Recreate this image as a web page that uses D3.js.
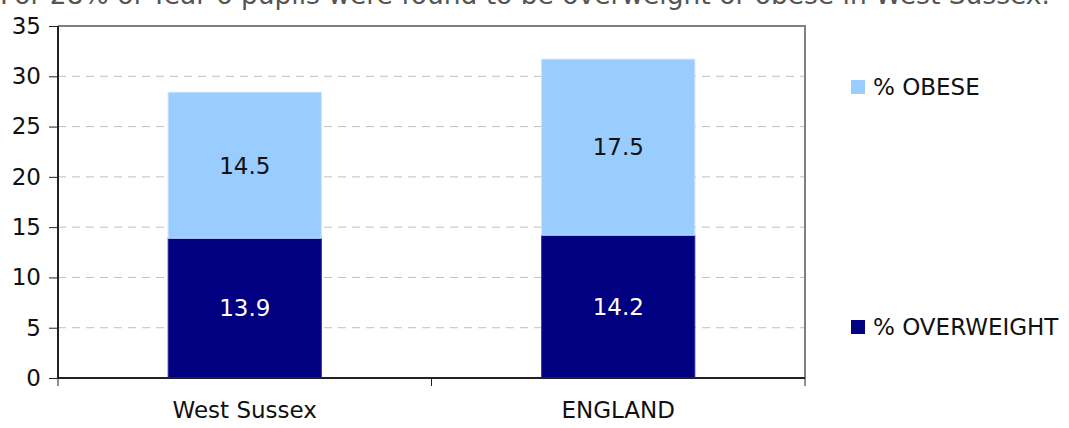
<!DOCTYPE html>
<html>
<head>
<meta charset="utf-8">
<script src="https://cdn.jsdelivr.net/npm/d3@7"></script>
<style>
  html, body { margin: 0; padding: 0; background: #fff; }
  svg { display: block; font-family: "DejaVu Sans", sans-serif; }
</style>
</head>
<body>
<svg id="chart" width="1069" height="428"></svg>
<script>
// Year 6 pupils overweight / obese, stacked by category
const categories = ["West Sussex", "ENGLAND"];
const overweight = [13.9, 14.2];
const obese = [14.5, 17.5];
const seriesNames = ["% OVERWEIGHT", "% OBESE"];
const seriesColors = ["#000080", "#99CCFF"];
const yTicks = [0, 5, 10, 15, 20, 25, 30, 35];
const captionText = "For 28% of Year 6 pupils were found to be overweight or obese in West Sussex.";

const svg = d3.select("#chart");
const plot = { left: 58, right: 805, top: 26, bottom: 378 };
const fs = 23;

const x = d3.scaleBand().domain(categories).range([plot.left, plot.right]).paddingInner(0).paddingOuter(0);
const y = d3.scaleLinear().domain([0, 35]).range([plot.bottom, plot.top]);
const barW = x.bandwidth() * 0.41;

// Caption line from the surrounding page, running off the top edge
svg.append("text")
  .attr("x", 0).attr("y", 4)
  .attr("font-size", 26.5).attr("fill", "#555")
  .text(captionText);

// Dashed horizontal gridlines
svg.append("g").selectAll("line")
  .data(yTicks.filter(d => d > 0 && d < 35))
  .join("line")
  .attr("x1", plot.left).attr("x2", plot.right)
  .attr("y1", d => y(d)).attr("y2", d => y(d))
  .attr("stroke", "#c0c0c0").attr("stroke-width", 1)
  .attr("stroke-dasharray", "8,6");

// Plot area frame (top and right)
svg.append("path")
  .attr("d", `M${plot.left},${plot.top}H${plot.right}V${plot.bottom}`)
  .attr("fill", "none").attr("stroke", "#808080").attr("stroke-width", 2);

// Stacked bars
const stackData = categories.map((c, i) => ({ cat: c, s0: overweight[i], s1: obese[i] }));
const stack = d3.stack().keys(["s0", "s1"])(stackData);

const layers = svg.append("g").selectAll("g")
  .data(stack)
  .join("g")
  .attr("fill", (d, i) => seriesColors[i])
  .attr("stroke", (d, i) => i === 0 ? "#2a2a9a" : "#c4e0ff")
  .attr("stroke-width", 1);

layers.selectAll("rect")
  .data(d => d)
  .join("rect")
  .attr("x", d => x(d.data.cat) + (x.bandwidth() - barW) / 2)
  .attr("width", barW)
  .attr("y", d => y(d[1]))
  .attr("height", d => y(d[0]) - y(d[1]));

// Value labels centred in each segment
stack.forEach((layer, li) => {
  svg.append("g").selectAll("text")
    .data(layer)
    .join("text")
    .attr("x", d => x(d.data.cat) + x.bandwidth() / 2)
    .attr("y", d => (y(d[0]) + y(d[1])) / 2)
    .attr("dy", "0.36em")
    .attr("text-anchor", "middle")
    .attr("font-size", fs)
    .attr("fill", li === 0 ? "#fff" : "#111")
    .text(d => (d[1] - d[0]).toFixed(1));
});

// Y axis
const yAxis = d3.axisLeft(y).tickValues(yTicks).tickSize(9).tickPadding(8).tickFormat(d3.format("d"));
const gy = svg.append("g").attr("transform", `translate(${plot.left},0)`).call(yAxis);
gy.select(".domain").attr("stroke", "#222").attr("stroke-width", 2).attr("d", `M0,${plot.top}V${plot.bottom}`);
gy.selectAll(".tick line").attr("stroke", "#222").attr("stroke-width", 1);
gy.selectAll(".tick text").attr("font-size", fs).attr("fill", "#111").attr("font-family", "DejaVu Sans, sans-serif");

// X axis with ticks at category boundaries
const gx = svg.append("g").attr("transform", `translate(0,${plot.bottom})`);
gx.append("line")
  .attr("x1", plot.left).attr("x2", plot.right)
  .attr("stroke", "#222").attr("stroke-width", 2);
const bounds = [plot.left, plot.left + x.bandwidth(), plot.right];
gx.selectAll(".bt").data(bounds).join("line")
  .attr("class", "bt")
  .attr("x1", d => d).attr("x2", d => d)
  .attr("y1", 0).attr("y2", 8)
  .attr("stroke", "#222").attr("stroke-width", 1);
gx.selectAll("text").data(categories).join("text")
  .attr("x", d => x(d) + x.bandwidth() / 2)
  .attr("y", 40)
  .attr("text-anchor", "middle")
  .attr("font-size", fs)
  .attr("fill", "#111")
  .text(d => d);

// Legend
const legendY = { "% OBESE": 87, "% OVERWEIGHT": 327 };
const legend = svg.append("g");
seriesNames.forEach((name, i) => {
  const cy = legendY[name];
  legend.append("rect")
    .attr("x", 851).attr("y", cy - 7).attr("width", 14).attr("height", 14)
    .attr("fill", seriesColors[i]);
  legend.append("text")
    .attr("x", 873).attr("y", cy).attr("dy", "0.36em")
    .attr("font-size", fs).attr("fill", "#111")
    .text(name);
});
</script>
</body>
</html>
